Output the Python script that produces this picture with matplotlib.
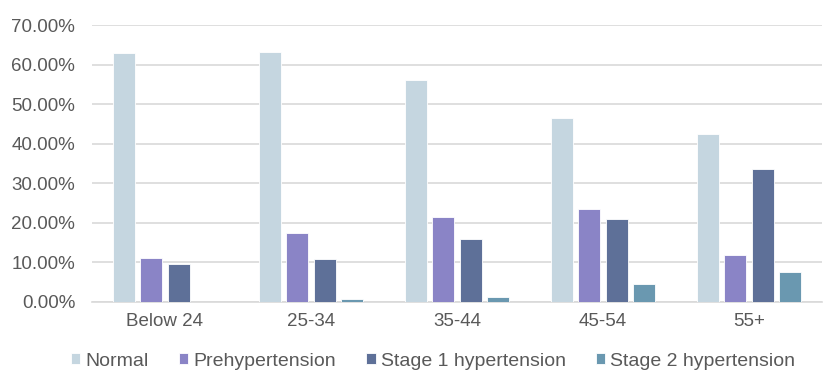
import numpy as np
import matplotlib
matplotlib.use("Agg")
import matplotlib.pyplot as plt
from matplotlib.ticker import FuncFormatter, MultipleLocator

plt.rcParams['font.family'] = ['Liberation Sans', 'DejaVu Sans']

age_groups = ["Below 24", "25-34", "35-44", "45-54", "55+"]
normal = [62.8, 63.2, 56.0, 46.6, 42.5]
prehypertension = [11.2, 17.5, 21.6, 23.6, 11.8]
stage1 = [9.7, 10.8, 15.9, 21.1, 33.6]
stage2 = [0.0, 0.8, 1.3, 4.5, 7.6]

series = [
    ("Normal", normal, "#C5D6E0"),
    ("Prehypertension", prehypertension, "#8A84C6"),
    ("Stage 1 hypertension", stage1, "#5E7098"),
    ("Stage 2 hypertension", stage2, "#6A98B0"),
]

text_color = "#595959"
fig = plt.figure(figsize=(8.25, 3.72), dpi=100)
ax = fig.add_axes([92 / 825, 70 / 372, 730 / 825, 277 / 372])

x = np.arange(len(age_groups))
slot = 0.187
width = 0.15
for i, (name, vals, color) in enumerate(series):
    offs = (i - 1.5) * slot
    ax.bar(x + offs, vals, width=width, color=color, edgecolor="white",
           linewidth=0.6, label=name, zorder=3)

ax.set_xlim(-0.5, len(age_groups) - 0.5)
ax.set_ylim(0, 70)
ax.yaxis.set_major_locator(MultipleLocator(10))
ax.yaxis.set_major_formatter(FuncFormatter(lambda v, p: f"{v:.2f}%"))
ax.set_xticks(x)
ax.set_xticklabels(age_groups)
ax.grid(axis="y", color="#D9D9D9", linewidth=1.2, zorder=0)
for s in ["top", "right", "left"]:
    ax.spines[s].set_visible(False)
ax.spines["bottom"].set_color("#D9D9D9")
ax.spines["bottom"].set_linewidth(1.2)
ax.tick_params(axis="both", length=0, colors=text_color, labelsize=13.5)
ax.tick_params(axis="y", pad=12)
ax.tick_params(axis="x", pad=8)

leg = fig.legend(loc="center", bbox_to_anchor=(433 / 825, 11 / 372), ncol=4,
                 frameon=False, fontsize=14, handlelength=0.5,
                 handleheight=0.5, handletextpad=0.25, columnspacing=1.55,
                 borderpad=0.0)
for t in leg.get_texts():
    t.set_color(text_color)

fig.savefig("out.png", dpi=100)
